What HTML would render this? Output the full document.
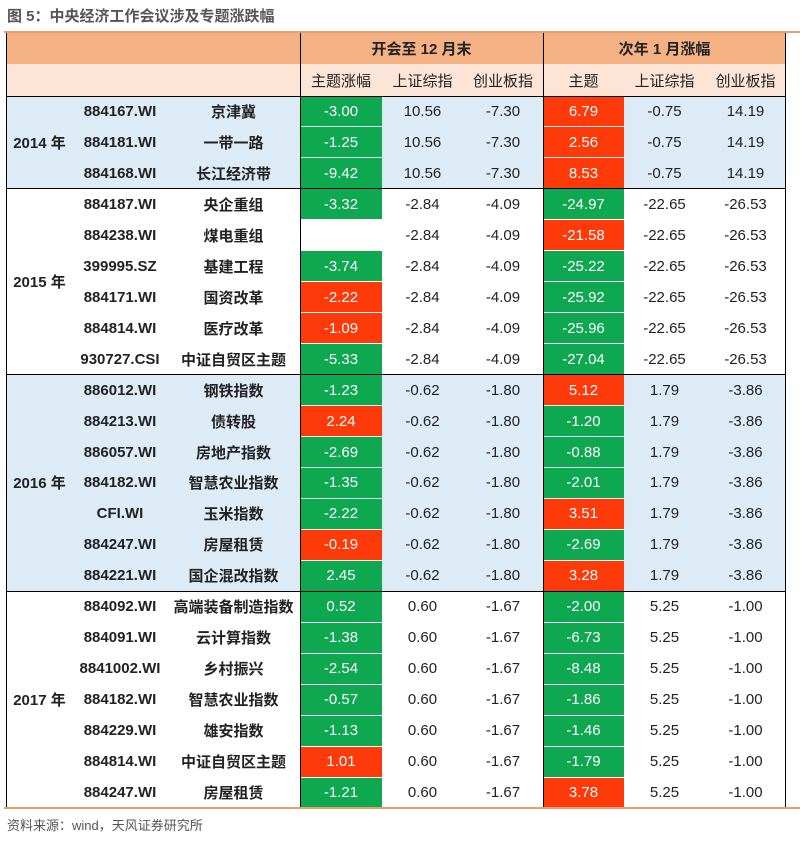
<!DOCTYPE html>
<html><head><meta charset="utf-8">
<style>
body{margin:0;width:803px;height:841px;background:#fff;position:relative;overflow:hidden;font-family:"Liberation Sans","Noto Sans CJK SC",sans-serif;}
.a{position:absolute;box-sizing:border-box;}
.c{position:absolute;display:flex;align-items:center;justify-content:center;font-size:15px;color:#222;box-sizing:border-box;}
.b{font-weight:bold;}
</style></head><body>
<div class="a" style="left:7px;top:5px;font-size:15px;font-weight:bold;color:#555;">图 5：中央经济工作会议涉及专题涨跌幅</div>
<div class="a" style="left:4px;top:31px;width:796px;height:2px;background:#E8A068;"></div>
<div class="a" style="left:6px;top:33px;width:780px;height:31px;background:#F4B183;"></div>
<div class="a" style="left:6px;top:64px;width:780px;height:32px;background:#FCE4D6;"></div>
<div class="c b" style="left:300px;top:33px;width:243px;height:31px;">开会至 12 月末</div>
<div class="c b" style="left:543px;top:33px;width:243px;height:31px;">次年 1 月涨幅</div>
<div id="tbl"></div>
<div class="a" style="left:4px;top:807px;width:796px;height:2px;background:#E8A068;"></div>
<div class="a" style="left:7px;top:815px;font-size:13px;color:#555;">资料来源：wind，天风证券研究所</div>
<script>
const colX=[6,73,167,300,382,463,543,624,705,786];
const subHeads=["主题涨幅","上证综指","创业板指","主题","上证综指","创业板指"];
const years=["2014 年","2015 年","2016 年","2017 年"];
const groupSizes=[3,6,7,7];
const codes=["884167.WI","884181.WI","884168.WI","884187.WI","884238.WI","399995.SZ","884171.WI","884814.WI","930727.CSI","886012.WI","884213.WI","886057.WI","884182.WI","CFI.WI","884247.WI","884221.WI","884092.WI","884091.WI","8841002.WI","884182.WI","884229.WI","884814.WI","884247.WI"];
const names=["京津冀","一带一路","长江经济带","央企重组","煤电重组","基建工程","国资改革","医疗改革","中证自贸区主题","钢铁指数","债转股","房地产指数","智慧农业指数","玉米指数","房屋租赁","国企混改指数","高端装备制造指数","云计算指数","乡村振兴","智慧农业指数","雄安指数","中证自贸区主题","房屋租赁"];
const themeA=["-3.00","-1.25","-9.42","-3.32","","-3.74","-2.22","-1.09","-5.33","-1.23","2.24","-2.69","-1.35","-2.22","-0.19","2.45","0.52","-1.38","-2.54","-0.57","-1.13","1.01","-1.21"];
const colorA="gggg.grrgg rgggrg ggggg rg".replace(/ /g,"");
const themeB=["6.79","2.56","8.53","-24.97","-21.58","-25.22","-25.92","-25.96","-27.04","5.12","-1.20","-0.88","-2.01","3.51","-2.69","3.28","-2.00","-6.73","-8.48","-1.86","-1.46","-1.79","3.78"];
const colorB="rrrgrggggrgggrgrggggggr";
const shA=["10.56","-2.84","-0.62","0.60"];
const cyA=["-7.30","-4.09","-1.80","-1.67"];
const shB=["-0.75","-22.65","1.79","5.25"];
const cyB=["14.19","-26.53","-3.86","-1.00"];
const T=document.getElementById('tbl');
const top0=96,rh=30.96;
function cell(name,x0,x1,y,h,txt,cls,bg,color){
  const d=document.createElement('div');
  d.className='c '+(cls||'');
  
  
  d.style.left=x0+'px';d.style.width=(x1-x0)+'px';d.style.top=y+'px';d.style.height=h+'px';
  if(bg)d.style.background=bg;
  if(color)d.style.color=color;
  d.textContent=txt;T.appendChild(d);return d;
}
function line(name,x,y,w,h,c){
  const d=document.createElement('div');d.className='a';
  
  
  d.style.cssText+=`left:${x}px;top:${y}px;width:${w}px;height:${h}px;background:${c};`;T.appendChild(d);
}
subHeads.forEach((s,i)=>cell('subheader-'+(i+1),colX[3+i],colX[4+i],64,32,s));
let r=0;
groupSizes.forEach((n,g)=>{
  const gy=top0+r*rh,gh=n*rh;
  if(g%2===0){line('group-bg-'+g,6,gy,780,gh,'#DDEBF7');}
  cell('year-label',colX[0],colX[1],gy,gh,years[g],'b');
  for(let k=0;k<n;k++,r++){
    const y=top0+r*rh;
    cell('code-cell',colX[1],colX[2],y,rh,codes[r],'b');
    cell('name-cell',colX[2],colX[3],y,rh,names[r],'b');
    const ca=colorA[r];
    cell('theme-change-open',colX[3],colX[4],y+0.5,rh-1,themeA[r],'',ca==='g'?'#0DA850':ca==='r'?'#FF3A0A':'#fff','#fff');
    cell('sh-index-open',colX[4],colX[5],y,rh,shA[g]);
    cell('gem-index-open',colX[5],colX[6],y,rh,cyA[g]);
    cell('theme-change-jan',colX[6],colX[7],y+0.5,rh-1,themeB[r],'',colorB[r]==='g'?'#0DA850':'#FF3A0A','#fff');
    cell('sh-index-jan',colX[7],colX[8],y,rh,shB[g]);
    cell('gem-index-jan',colX[8],colX[9],y,rh,cyB[g]);
  }
  line('group-separator',6,top0+r*rh-0.5,780,1,'#000');
});
line('left-border',6,33,1,775,'#000');
line('right-border',785,33,1,775,'#000');
line('col-divider-1',300,33,1,775,'#000');
line('col-divider-2',543,33,1,775,'#000');
line('header-separator',6,95.5,780,1,'#000');
</script>
</body></html>
